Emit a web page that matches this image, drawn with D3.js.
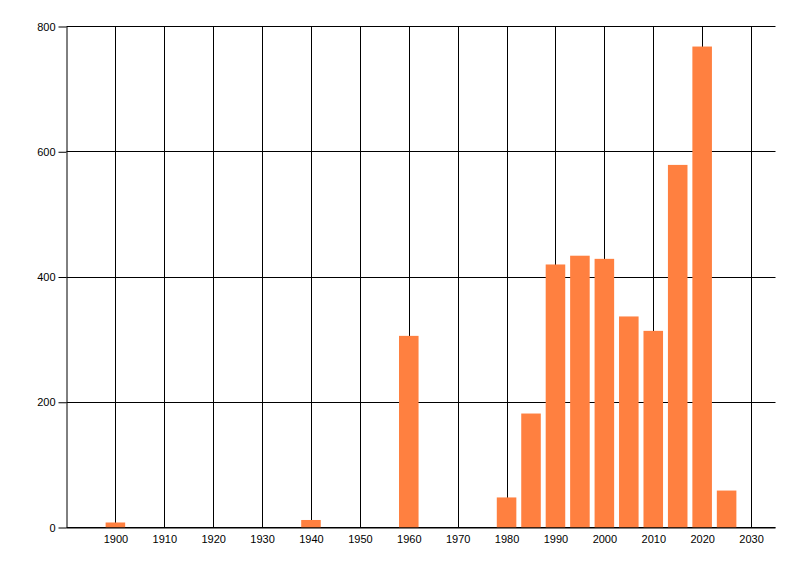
<!DOCTYPE html>
<html>
<head>
<meta charset="utf-8">
<script src="https://cdn.jsdelivr.net/npm/d3@7"></script>
<style>
    body { margin: 0; background: #fff; }
    text { font-family: "Liberation Sans", Arial, sans-serif; font-size: 11px; fill: #000; }
</style>
</head>
<body>
<svg class="chart-svg"></svg>
<script>
// bar data
const years = [1900, 1940, 1960, 1980, 1985, 1990, 1995, 2000, 2005, 2010, 2015, 2020, 2025];
const counts = [8, 12, 306, 48, 182, 420, 434, 429, 337, 314, 579, 768, 59];

const xTicks = [1900, 1910, 1920, 1930, 1940, 1950, 1960, 1970, 1980, 1990, 2000, 2010, 2020, 2030];
const yTicks = [0, 200, 400, 600, 800];

const chart = {
    width: 800,
    height: 576,
    left: 66.5,
    right: 775.5,
    top: 26.5,
    bottom: 527.5,
    barYears: 4,
};

const svg = d3.select(".chart-svg")
    .attr("width", chart.width)
    .attr("height", chart.height);

const x = d3.scaleLinear().domain([1890, 2035]).range([chart.left, chart.right]);
const y = d3.scaleLinear().domain([0, 800]).range([chart.bottom, chart.top]);

// grid
svg.append("g")
    .selectAll("line")
    .data(xTicks)
    .enter()
    .append("line")
    .attr("x1", d => Math.round(x(d)) + 0.5)
    .attr("x2", d => Math.round(x(d)) + 0.5)
    .attr("y1", chart.top)
    .attr("y2", chart.bottom)
    .attr("stroke", "#000");

svg.append("g")
    .selectAll("line")
    .data(yTicks)
    .enter()
    .append("line")
    .attr("x1", chart.left)
    .attr("x2", chart.right)
    .attr("y1", d => Math.round(y(d) - 0.5) + 0.5)
    .attr("y2", d => Math.round(y(d) - 0.5) + 0.5)
    .attr("stroke", "#000");

// bars
const barW = x(1890 + chart.barYears) - x(1890);
svg.append("g")
    .selectAll("rect")
    .data(years)
    .enter()
    .append("rect")
    .attr("x", d => x(d) - barW / 2)
    .attr("y", (d, i) => y(counts[i]))
    .attr("width", barW)
    .attr("height", (d, i) => y(0) - y(counts[i]))
    .attr("fill", "#ff8040");

// axes
const yAxis = svg.append("g")
    .attr("transform", `translate(${chart.left},0)`)
    .call(d3.axisLeft(y).tickValues(yTicks).tickSize(8).tickPadding(3));
yAxis.select(".domain").attr("d", `M0.5,${chart.top}V${chart.bottom}`);
yAxis.selectAll(".tick line").attr("stroke", "#000");
yAxis.selectAll("text").style("font-size", "11px").style("font-family", "Liberation Sans, Arial, sans-serif");

const xAxis = svg.append("g")
    .attr("transform", `translate(0,${chart.bottom})`)
    .call(d3.axisBottom(x).tickValues(xTicks).tickFormat(d3.format("d")).tickSize(0).tickPadding(8));
xAxis.select(".domain").attr("d", `M${chart.left},0.5H${chart.right}`);
xAxis.selectAll("text").style("font-size", "11px").style("font-family", "Liberation Sans, Arial, sans-serif");
</script>
</body>
</html>
